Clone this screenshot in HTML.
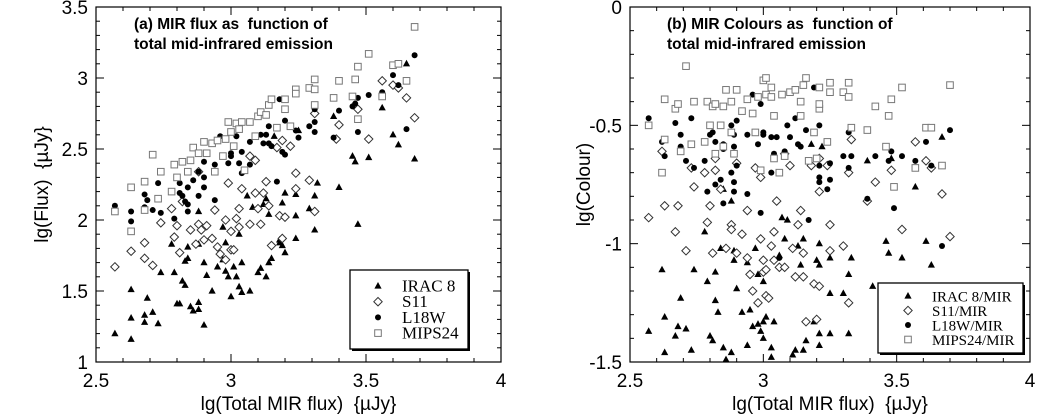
<!DOCTYPE html>
<html><head><meta charset="utf-8"><style>
body{margin:0;background:#fff;}
svg{display:block;font-family:"Liberation Sans",sans-serif;}
text{white-space:pre;}
</style></head><body>
<svg id="chart" width="1037" height="415" viewBox="0 0 1037 415" xmlns="http://www.w3.org/2000/svg"></svg>
<script>
// ---- Panel (a) data: [lgTotalMIR, lgFlux]
const aIracX=[2.57,2.63,2.63,2.63,2.68,2.69,2.68,2.71,2.73,2.74,2.78,2.79,2.80,2.81,2.82,2.83,2.83,2.84,2.84,2.85,2.86,2.88,2.88,2.90,2.90,2.88,2.91,2.93,2.95,2.97,2.98,2.99,3.00,3.01,3.02,3.03,3.04,3.04,3.07,2.97,2.98,3.03,3.06,3.08,3.10,3.11,3.13,3.14,3.15,3.12,3.14,3.13,3.18,3.18,3.19,3.20,3.19,3.20,3.24,3.24,3.24,3.29,3.31,3.31,3.32,3.40,3.38,3.45,3.46,3.47,3.51,3.56,3.60,3.62,3.65,3.68,2.88,3.16,3.25];
const aIracY=[1.20,1.16,1.31,1.51,1.28,1.45,1.33,1.35,1.27,1.63,1.83,1.63,1.41,1.41,1.57,1.54,1.71,1.73,1.81,1.39,1.36,1.42,1.37,1.26,1.70,1.83,1.61,1.50,1.67,1.72,1.64,1.60,1.46,1.67,1.60,1.53,1.49,1.70,1.50,1.95,1.84,1.90,2.17,2.09,1.63,1.66,1.60,1.70,1.73,2.11,2.04,2.15,1.86,1.84,1.82,1.77,2.12,2.19,1.87,2.03,2.18,2.08,1.93,2.17,2.26,2.23,2.73,2.45,2.41,1.97,2.44,2.79,2.60,2.53,3.10,2.43,2.06,2.59,2.63];
const aS11X=[2.57,2.63,2.68,2.68,2.71,2.74,2.78,2.79,2.80,2.81,2.82,2.85,2.87,2.88,2.89,2.90,2.91,2.94,2.93,2.95,2.96,2.98,2.98,3.00,3.00,3.01,3.03,3.02,3.04,3.03,3.07,3.09,3.10,3.11,3.12,3.13,3.14,3.15,3.18,3.19,3.20,3.17,3.19,3.22,3.24,3.24,3.29,3.31,3.31,3.40,3.39,3.47,3.51,3.56,3.60,3.62,3.65,3.68,3.07,3.09,2.99,2.88];
const aS11Y=[1.67,1.78,1.84,1.73,1.68,1.98,2.08,1.88,1.96,1.77,2.13,1.93,1.83,1.97,1.93,1.86,1.96,2.07,1.87,1.81,1.76,1.72,2.00,1.92,1.79,1.79,2.08,2.01,2.22,1.95,1.97,2.19,2.08,1.97,2.19,2.27,2.10,1.82,2.03,1.87,2.02,2.51,2.56,2.52,2.33,2.22,2.28,2.06,2.75,2.67,2.57,2.78,2.57,2.98,2.95,2.93,2.86,2.72,2.45,2.42,2.26,2.34];
const aL18X=[2.57,2.63,2.63,2.68,2.69,2.68,2.73,2.71,2.74,2.79,2.81,2.81,2.82,2.84,2.83,2.84,2.84,2.86,2.88,2.90,2.90,2.88,2.90,2.94,2.94,2.96,2.97,2.99,3.00,3.00,3.04,3.03,3.04,3.07,3.07,3.09,3.11,3.12,3.14,3.13,3.14,3.15,3.18,3.20,3.19,3.20,3.24,3.25,3.17,3.29,3.31,3.31,3.31,3.38,3.40,3.45,3.47,3.47,3.51,3.56,3.60,3.62,3.65,3.68,3.46,3.02];
const aL18Y=[2.10,1.99,2.06,2.18,2.14,2.09,2.26,2.07,2.05,2.01,2.26,2.19,2.17,2.23,2.13,2.11,2.06,2.28,2.34,2.41,2.30,2.17,2.23,2.39,2.14,2.59,2.45,2.40,2.45,2.47,2.48,2.40,2.33,2.55,2.39,2.59,2.60,2.54,2.66,2.60,2.54,2.52,2.85,2.70,2.48,2.46,2.63,2.58,2.27,2.66,2.78,2.69,2.62,2.58,2.77,2.80,2.86,2.62,2.88,2.90,3.02,2.95,2.64,3.16,2.82,2.59];
const aMipsX=[2.57,2.63,2.63,2.68,2.68,2.71,2.73,2.74,2.78,2.79,2.80,2.82,2.84,2.85,2.86,2.88,2.90,2.91,2.93,2.94,2.95,2.97,2.98,2.99,3.00,3.01,3.02,3.03,3.04,3.05,3.07,3.09,3.10,3.11,3.13,3.14,3.15,3.17,3.20,3.20,3.22,3.24,3.24,3.29,3.31,3.31,3.31,3.38,3.40,3.46,3.45,3.47,3.47,3.51,3.56,3.60,3.62,3.65,3.68];
const aMipsY=[2.06,1.92,2.23,2.27,2.07,2.46,2.15,2.34,2.20,2.39,2.30,2.41,2.34,2.42,2.51,2.47,2.55,2.47,2.54,2.34,2.56,2.45,2.57,2.69,2.62,2.52,2.68,2.64,2.69,2.35,2.69,2.59,2.73,2.76,2.74,2.81,2.85,2.65,2.85,2.78,2.66,2.92,2.89,2.93,2.92,2.99,2.81,2.86,2.98,2.99,2.87,3.08,2.71,3.17,2.87,3.09,3.10,2.98,3.36];
// ---- Panel (b) data: [lgTotalMIR, lgColour]
const bIracX=[2.57,2.63,2.63,2.62,2.67,2.68,2.69,2.71,2.73,2.74,2.78,2.79,2.80,2.81,2.82,2.82,2.83,2.84,2.85,2.85,2.86,2.88,2.88,2.89,2.89,2.90,2.92,2.94,2.94,2.95,2.96,2.97,2.98,2.98,2.99,3.00,3.00,3.00,3.01,3.04,3.03,3.03,3.06,3.07,3.08,3.09,3.11,3.12,3.13,3.14,3.15,3.15,3.16,3.18,3.19,3.20,3.21,3.21,3.21,3.21,3.22,3.25,3.25,3.25,3.30,3.32,3.32,3.33,3.39,3.41,3.46,3.47,3.48,3.52,3.57,3.61,3.63,3.67];
const bIracY=[-1.37,-1.46,-1.31,-1.11,-1.39,-1.35,-1.23,-1.36,-1.45,-1.11,-0.95,-1.16,-1.39,-1.41,-1.24,-1.12,-1.29,-1.02,-0.77,-1.44,-1.49,-1.46,-0.82,-1.07,-1.03,-1.19,-1.29,-1.43,-1.08,-1.28,-1.35,-1.02,-1.13,-1.34,-1.37,-1.40,-1.16,-1.33,-1.31,-1.33,-1.44,-1.48,-1.05,-0.89,-0.98,-0.90,-1.47,-1.45,-1.01,-1.09,-0.98,-1.45,-1.41,-0.58,-1.33,-1.07,-1.38,-1.43,-1.09,-1.00,-0.59,-1.06,-1.21,-1.38,-1.21,-1.38,-1.13,-1.06,-0.65,-1.18,-0.99,-1.04,-0.64,-1.06,-0.76,-0.99,-1.09,-0.55];
const bS11X=[2.57,2.63,2.62,2.67,2.68,2.71,2.73,2.74,2.78,2.79,2.80,2.81,2.82,2.82,2.84,2.86,2.88,2.88,2.90,2.90,2.92,2.94,2.94,2.95,2.96,2.97,2.98,2.99,2.99,3.00,3.00,3.01,3.01,3.02,3.03,3.04,3.04,3.05,3.06,3.08,3.08,3.10,3.11,3.12,3.13,3.14,3.15,3.15,3.16,3.18,3.19,3.20,3.21,3.21,3.21,3.24,3.25,3.25,3.30,3.32,3.32,3.33,3.39,3.42,3.48,3.52,3.57,3.61,3.63,3.67,3.70];
const bS11Y=[-0.89,-0.84,-0.61,-0.95,-0.84,-1.03,-0.68,-0.76,-0.70,-0.91,-0.84,-1.04,-0.64,-0.69,-0.77,-1.02,-0.92,-0.94,-1.04,-0.66,-0.96,-0.86,-1.06,-1.13,-1.20,-0.68,-1.25,-0.98,-0.72,-1.12,-1.07,-1.11,-1.22,-1.23,-1.01,-0.95,-1.07,-0.82,-1.10,-1.10,-0.62,-0.67,-1.02,-1.14,-0.92,-0.86,-1.04,-1.14,-1.33,-0.67,-1.17,-1.32,-0.64,-1.18,-0.78,-0.67,-0.92,-1.03,-1.01,-0.70,-1.25,-0.56,-0.82,-0.74,-0.69,-0.94,-0.57,-0.65,-0.68,-0.79,-0.97];
const bL18X=[2.57,2.62,2.63,2.67,2.69,2.69,2.71,2.73,2.74,2.78,2.79,2.80,2.81,2.82,2.82,2.84,2.85,2.85,2.85,2.88,2.89,2.89,2.88,2.89,2.89,2.90,2.90,2.94,2.94,2.96,2.98,2.99,2.99,3.00,3.00,3.03,3.03,3.04,3.05,3.06,3.08,3.09,3.10,3.12,3.13,3.14,3.16,3.17,3.19,3.21,3.21,3.21,3.21,3.24,3.25,3.25,3.30,3.32,3.32,3.33,3.39,3.42,3.47,3.48,3.49,3.52,3.57,3.61,3.63,3.67,3.70];
const bL18Y=[-0.47,-0.57,-0.63,-0.49,-0.54,-0.59,-0.65,-0.47,-0.68,-0.65,-0.78,-0.54,-0.53,-0.57,-0.75,-0.73,-0.83,-0.58,-0.60,-0.50,-0.54,-0.59,-0.70,-0.74,-0.78,-0.48,-0.67,-0.54,-0.79,-0.37,-0.58,-0.41,-0.87,-0.53,-0.54,-0.55,-0.70,-0.62,-0.55,-1.06,-0.61,-0.50,-0.55,-0.47,-0.58,-0.59,-0.52,-0.90,-0.34,-0.50,-0.67,-0.72,-0.74,-0.77,-0.73,-0.66,-0.63,-0.53,-0.68,-0.63,-0.81,-0.63,-0.65,-0.61,-0.85,-0.63,-0.65,-0.57,-0.67,-1.01,-0.52];
const bMipsX=[2.57,2.63,2.62,2.63,2.67,2.68,2.69,2.71,2.73,2.74,2.78,2.79,2.81,2.82,2.80,2.82,2.84,2.85,2.85,2.86,2.88,2.88,2.89,2.90,2.92,2.94,2.96,2.97,2.98,2.99,3.00,3.01,3.01,3.03,3.03,3.04,3.04,3.06,3.07,3.08,3.10,3.12,3.15,3.16,3.14,3.14,3.17,3.19,3.21,3.21,3.21,3.20,3.24,3.25,3.25,3.30,3.32,3.32,3.33,3.39,3.42,3.47,3.48,3.49,3.52,3.57,3.61,3.63,3.67,3.70,3.46];
const bMipsY=[-0.50,-0.39,-0.70,-0.56,-0.43,-0.41,-0.61,-0.25,-0.58,-0.40,-0.57,-0.40,-0.42,-0.41,-0.50,-0.62,-0.50,-0.59,-0.42,-0.35,-0.40,-0.53,-0.62,-0.35,-0.44,-0.39,-0.45,-0.53,-0.38,-0.69,-0.31,-0.30,-0.37,-0.38,-0.34,-0.46,-0.64,-0.70,-0.37,-0.63,-0.36,-0.35,-0.33,-0.30,-0.46,-0.40,-0.65,-0.53,-0.34,-0.43,-0.41,-0.64,-0.57,-0.36,-0.32,-0.36,-0.32,-0.38,-0.51,-0.52,-0.42,-0.46,-0.39,-0.76,-0.34,-0.68,-0.51,-0.51,-0.67,-0.33,-0.59];
const xTicks=["2.5","3","3.5","4"];
const aYTicks=["1","1.5","2","2.5","3","3.5"];
const bYTicks=["-1.5","-1","-0.5","0"];
const aLegend=["IRAC 8","S11","L18W","MIPS24"];
const bLegend=["IRAC 8/MIR","S11/MIR","L18W/MIR","MIPS24/MIR"];

const NS="http://www.w3.org/2000/svg";
const svg=document.getElementById('chart');
function mk(tag,attrs,parent){const e=document.createElementNS(NS,tag);for(const k in attrs)e.setAttribute(k,attrs[k]);(parent||svg).appendChild(e);return e;}

function marker(g,type,cx,cy){
  let e;
  if(type===0){e=mk('path',{d:`M${cx} ${cy-4}L${cx+3.6} ${cy+2.6}L${cx-3.6} ${cy+2.6}Z`,fill:'#000'},g);}
  else if(type===1){e=mk('path',{d:`M${cx} ${cy-4.2}L${cx+4.2} ${cy}L${cx} ${cy+4.2}L${cx-4.2} ${cy}Z`,fill:'#fff',stroke:'#333','stroke-width':1},g);}
  else if(type===2){e=mk('circle',{cx:cx,cy:cy,r:3,fill:'#000'},g);}
  else {e=mk('rect',{x:cx-3.3,y:cy-3.3,width:6.6,height:6.6,fill:'#fff',stroke:'#777','stroke-width':1},g);}
  return e;
}

function panel(cfg){
  const g=mk('g',{});
  
  
  const sx=v=>cfg.x0+(v-cfg.xmin)/(cfg.xmax-cfg.xmin)*(cfg.x1-cfg.x0);
  const sy=v=>cfg.y1-(v-cfg.ymin)/(cfg.ymax-cfg.ymin)*(cfg.y1-cfg.y0);
  for(let i=0;i<=15;i++){const v=cfg.xmin+i*0.1;const x=sx(v);const L=(i%5===0)?8:4;
    mk('line',{x1:x,y1:cfg.y1,x2:x,y2:cfg.y1-L,stroke:'#000','stroke-width':1},g);
    mk('line',{x1:x,y1:cfg.y0,x2:x,y2:cfg.y0+L,stroke:'#000','stroke-width':1},g);}
  const ny=Math.round((cfg.ymax-cfg.ymin)/0.1);
  for(let i=0;i<=ny;i++){const v=cfg.ymin+i*0.1;const y=sy(v);const L=(i%5===0)?8:4;
    mk('line',{x1:cfg.x0,y1:y,x2:cfg.x0+L,y2:y,stroke:'#000','stroke-width':1},g);
    mk('line',{x1:cfg.x1,y1:y,x2:cfg.x1-L,y2:y,stroke:'#000','stroke-width':1},g);}
  const frame=mk('rect',{x:cfg.x0,y:cfg.y0,width:cfg.x1-cfg.x0,height:cfg.y1-cfg.y0,fill:'none',stroke:'#000','stroke-width':1.2},g);
  
  
  xTicks.forEach(t=>{const e=mk('text',{x:sx(parseFloat(t)),y:cfg.y1+25,'text-anchor':'middle','font-size':19},g);e.textContent=t;
    
    });
  cfg.yTicks.forEach(t=>{const e=mk('text',{x:cfg.x0-8,y:sy(parseFloat(t))+7,'text-anchor':'end','font-size':19},g);e.textContent=t;
    
    });
  const xl=mk('text',{x:(cfg.x0+cfg.x1)/2,y:410,'text-anchor':'middle','font-size':19},g);xl.textContent='lg(Total MIR flux)  {\u00b5Jy}';
  
  
  const yl=mk('text',{x:0,y:0,'text-anchor':'middle','font-size':19,transform:`translate(${cfg.ylx},${(cfg.y0+cfg.y1)/2}) rotate(-90)`},g);yl.textContent=cfg.ytitle;
  
  
  cfg.title.forEach((t,i)=>{const e=mk('text',{x:cfg.tx,y:29+i*20,'font-size':15.5,'font-weight':'bold'},g);e.textContent=t;
    
    });
  cfg.series.forEach((s,si)=>{
    const sg=mk('g',{},g);
    
    
    s[0].forEach((xv,i)=>{const m=marker(sg,si,sx(xv),sy(s[1][i]));
      
      });
  });
  const lg=mk('g',{},g);
  
  
  const L=cfg.leg;
  mk('rect',{x:L.x+2,y:L.y+2,width:L.w,height:L.h,fill:'#000'},lg);
  mk('rect',{x:L.x,y:L.y,width:L.w,height:L.h,fill:'#fff',stroke:'#000','stroke-width':1.3},lg);
  cfg.legend.forEach((t,i)=>{const y=L.y+L.fy+i*L.dy;
    const ent=mk('g',{},lg);
    
    
    marker(ent,i,L.x+L.mx,y);
    const e=mk('text',{x:L.x+L.tx,y:y+5.5,'font-size':L.fs,'font-family':'"Liberation Serif",serif'},ent);e.textContent=t;});
}

panel({name:'panel-a-flux',x0:96,x1:501,y0:7,y1:362,xmin:2.5,xmax:4,ymin:1,ymax:3.5,yTicks:aYTicks,ylx:48,
  ytitle:'lg(Flux)  {\u00b5Jy}',tx:134,title:['(a) MIR flux as  function of','total mid-infrared emission'],
  series:[[aIracX,aIracY],[aS11X,aS11Y],[aL18X,aL18Y],[aMipsX,aMipsY]],legend:aLegend,
  leg:{x:350,y:270,w:118,h:79,mx:28,tx:52,fy:16,dy:15.7,fs:17}});
panel({name:'panel-b-colour',x0:630,x1:1030,y0:7,y1:362,xmin:2.5,xmax:4,ymin:-1.5,ymax:0,yTicks:bYTicks,ylx:590,
  ytitle:'lg(Colour)',tx:667,title:['(b) MIR Colours as  function of','total mid-infrared emission'],
  series:[[bIracX,bIracY],[bS11X,bS11Y],[bL18X,bL18Y],[bMipsX,bMipsY]],legend:bLegend,
  leg:{x:878,y:283,w:145,h:70,mx:30,tx:54,fy:13,dy:14.5,fs:15}});
</script>
</body></html>
